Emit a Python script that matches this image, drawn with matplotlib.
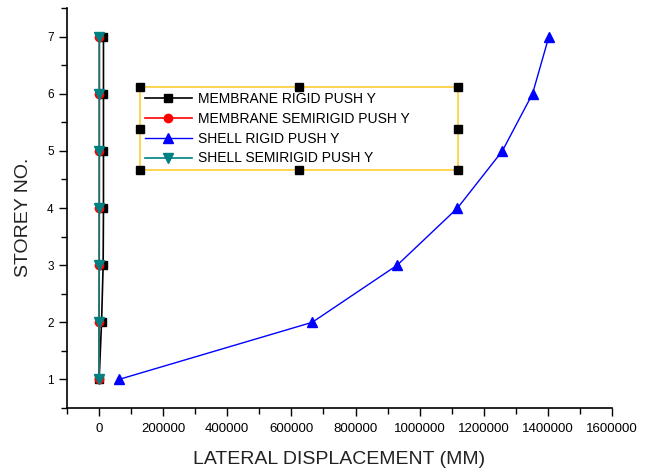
import numpy as np
import matplotlib
matplotlib.use("Agg")
from matplotlib import pyplot as plt
from matplotlib.ticker import MultipleLocator

storey = [1, 2, 3, 4, 5, 6, 7]
membrane_rigid = [500, 8000, 13000, 14000, 14000, 14000, 14000]
membrane_semi = [0, 300, 600, 800, 900, 1000, 1000]
shell_rigid = [62000, 665000, 930000, 1118000, 1258000, 1352000, 1403000]
shell_semi = [200, 500, 800, 1000, 1100, 1200, 1200]

labels = ["MEMBRANE RIGID PUSH Y", "MEMBRANE SEMIRIGID PUSH Y",
          "SHELL RIGID PUSH Y", "SHELL SEMIRIGID PUSH Y"]

plt.rcParams['font.family'] = ['Liberation Sans', 'DejaVu Sans']

fig = plt.figure(figsize=(6.56, 4.75), dpi=100)
ax = fig.add_axes([0.102, 0.141, 0.831, 0.842])

ax.plot(membrane_rigid, storey, color='black', marker='s', ms=6, lw=1.2, label=labels[0])
ax.plot(membrane_semi, storey, color='red', marker='o', ms=6, lw=1.2, label=labels[1])
ax.plot(shell_rigid, storey, color='blue', marker='^', ms=7, lw=1.0, label=labels[2])
ax.plot(shell_semi, storey, color='#008080', marker='v', ms=7, lw=1.2, label=labels[3])

ax.set_xlim(-100000, 1600000)
ax.set_ylim(0.5, 7.5)
ax.xaxis.set_minor_locator(MultipleLocator(100000))
ax.yaxis.set_major_locator(MultipleLocator(1))
ax.yaxis.set_minor_locator(MultipleLocator(0.5))
ax.set_xticks(np.arange(0, 1600001, 200000))
ax.set_xticklabels([str(v) for v in range(0, 1600001, 200000)])
ax.tick_params(which='major', length=6, width=1, direction='out', colors='black')
ax.tick_params(which='minor', length=4, width=1, direction='out')
ax.tick_params(axis='x', which='major', labelsize=9.5, pad=5)
ax.tick_params(axis='y', which='major', labelsize=8.5, pad=3.5)
for s in ['top', 'right']:
    ax.spines[s].set_visible(False)
for s in ['left', 'bottom']:
    ax.spines[s].set_linewidth(1.2)

ax.set_xlabel("LATERAL DISPLACEMENT (MM)", fontsize=14, color='#222222')
ax.set_ylabel("STOREY NO.", fontsize=14, color='#222222')
ax.xaxis.set_label_coords(0.5, -0.108)
ax.yaxis.set_label_coords(-0.064, 0.476)

leg = ax.legend(loc='upper left', bbox_to_anchor=(0.134, 0.595, 0.583, 0.2075),
                mode='expand', fontsize=10, handlelength=3.4, fancybox=False,
                borderaxespad=0, labelspacing=0.42, handletextpad=0.4,
                borderpad=0.35)
leg.get_frame().set_edgecolor('#FFC000')
leg.get_frame().set_linewidth(1.2)

# selection handles around the legend box
fig.canvas.draw()
bb = leg.get_window_extent().transformed(ax.transAxes.inverted())
hx = [bb.x0, (bb.x0 + bb.x1) / 2, bb.x1]
hy = [bb.y0, (bb.y0 + bb.y1) / 2, bb.y1]
for xx in hx:
    for yy in hy:
        if xx == hx[1] and yy == hy[1]:
            continue
        ax.plot(xx, yy, marker='s', ms=6, color='black', transform=ax.transAxes,
                clip_on=False, zorder=10)

fig.savefig("out.png", dpi=100)
